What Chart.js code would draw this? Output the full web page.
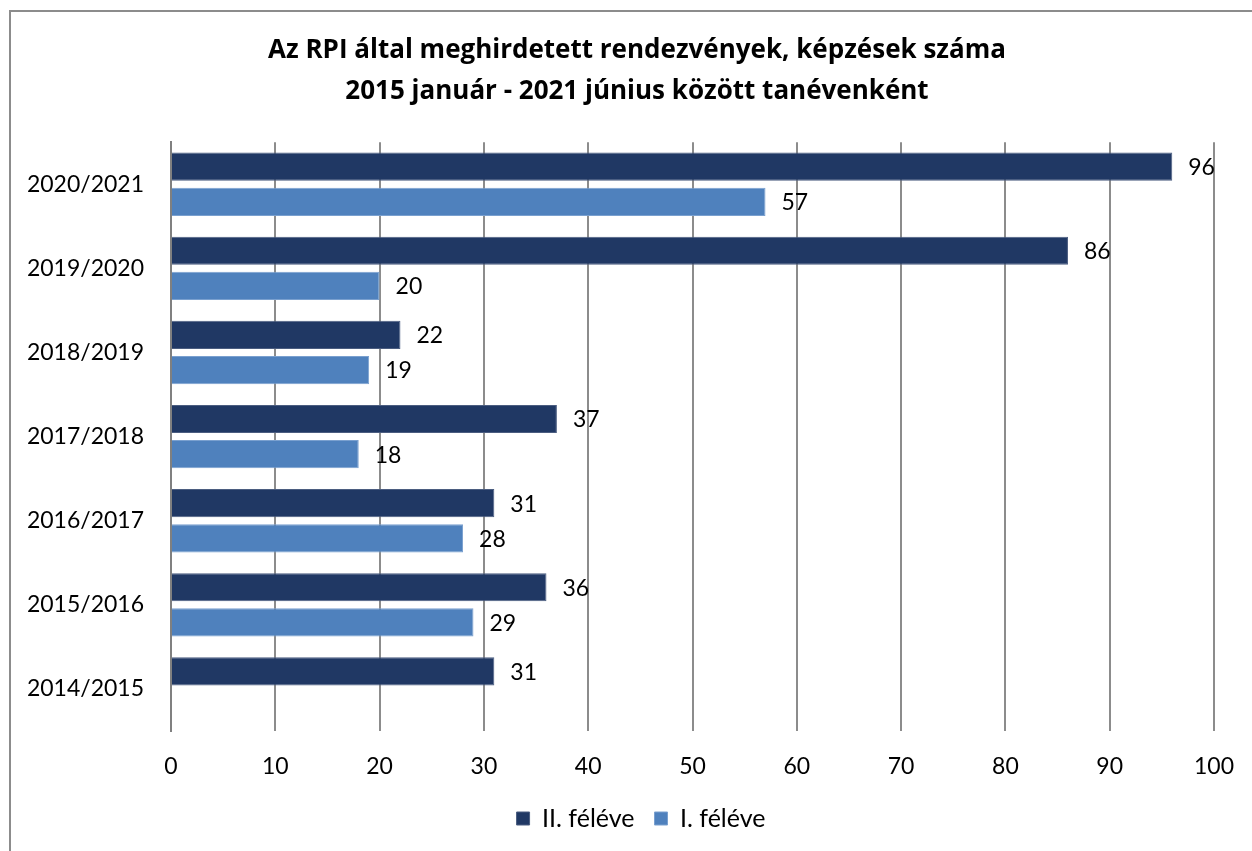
<!DOCTYPE html>
<html>
<head>
<meta charset="utf-8">
<script src="https://cdn.jsdelivr.net/npm/chart.js@4"></script>
<style>
  body { margin: 0; background: #fff; }
  #keret { position: absolute; left: 9px; top: 10px; width: 1260px; height: 860px; border: 2px solid #8c8c8c; }
  #doboz { position: absolute; left: 0; top: 0; width: 1252px; height: 851px; }
</style>
</head>
<body>
<div id="keret"></div>
<div id="doboz"><canvas id="myChart"></canvas></div>
<script>
// tanévek fentről lefelé
const tanevek = ['2020/2021', '2019/2020', '2018/2019', '2017/2018', '2016/2017', '2015/2016', '2014/2015'];
const masodikFelev = [96, 86, 22, 37, 31, 36, 31];
const elsoFelev = [57, 20, 19, 18, 28, 29, null];
const xTickek = [0, 10, 20, 30, 40, 50, 60, 70, 80, 90, 100];

const sotetKek = '#203864';
const vilagosKek = '#4f81bd';

Chart.defaults.font.family = 'Lato, "Open Sans", sans-serif';
Chart.defaults.color = '#000';

// szamok kiirasa a savok melle
const ertekCimkek = {
  id: 'ertekCimkek',
  afterDatasetsDraw(chart) {
    const ctx = chart.ctx;
    ctx.save();
    ctx.font = '23px Lato, "Open Sans", sans-serif';
    ctx.fillStyle = '#000';
    ctx.textBaseline = 'middle';
    ctx.textAlign = 'left';
    chart.data.datasets.forEach(function (ds, i) {
      chart.getDatasetMeta(i).data.forEach(function (bar, j) {
        if (ds.data[j] == null) return;
        ctx.fillText(ds.data[j], bar.x + 16, bar.y + 1);
      });
    });
    ctx.restore();
  }
};

// cim es jelmagyarazat kicsit jobbra, mint az eredetin
const eltolas = {
  id: 'eltolas',
  afterLayout(chart) {
    chart.titleBlock.left += 24;
    chart.titleBlock.right += 24;
    chart.legend.left += 28;
    chart.legend.right += 28;
  }
};

const ctx = document.getElementById('myChart');

const myChart = new Chart(ctx, {
  type: 'bar',
  data: {
    labels: tanevek,
    datasets: [{
      label: 'II. féléve',
      data: masodikFelev,
      backgroundColor: sotetKek,
      borderColor: '#4b5d80',
      borderWidth: 1,
      categoryPercentage: 0.837,
      barPercentage: 0.8
    }, {
      label: 'I. féléve',
      data: elsoFelev,
      backgroundColor: vilagosKek,
      borderColor: '#7aa0cf',
      borderWidth: 1,
      categoryPercentage: 0.837,
      barPercentage: 0.8
    }]
  },
  options: {
    indexAxis: 'y',
    responsive: true,
    maintainAspectRatio: false,
    animation: false,
    layout: { padding: { left: 12, right: 38, top: 0, bottom: 10 } },
    plugins: {
      title: {
        display: true,
        text: ['Az RPI által meghirdetett rendezvények, képzések száma', '2015 január - 2021 június között tanévenként'],
        color: '#000',
        font: { family: '"Open Sans", Lato, sans-serif', size: 26, weight: 'bold', lineHeight: 1.58 },
        padding: { top: 30, bottom: 30 }
      },
      legend: {
        position: 'bottom',
        labels: {
          boxWidth: 13,
          boxHeight: 13,
          padding: 20,
          font: { size: 25 },
          color: '#000'
        }
      },
      tooltip: { enabled: false }
    },
    scales: {
      x: {
        min: 0,
        max: 100,
        afterBuildTicks(scale) {
          scale.ticks = xTickek.map(v => ({ value: v }));
        },
        afterFit(scale) {
          scale.height = 55;
          scale.paddingLeft = 0;
          scale.paddingRight = 0;
        },
        grid: { color: '#8c8c8c', lineWidth: 2, drawTicks: false },
        border: { display: false },
        ticks: { font: { size: 23 }, padding: 22, color: '#000' }
      },
      y: {
        afterFit(scale) { scale.width = 159; },
        grid: { display: false, drawTicks: false },
        border: { display: true, color: '#808080', width: 2 },
        ticks: { font: { size: 23 }, padding: 27, color: '#000' }
      }
    }
  },
  plugins: [ertekCimkek, eltolas]
});
</script>
</body>
</html>
